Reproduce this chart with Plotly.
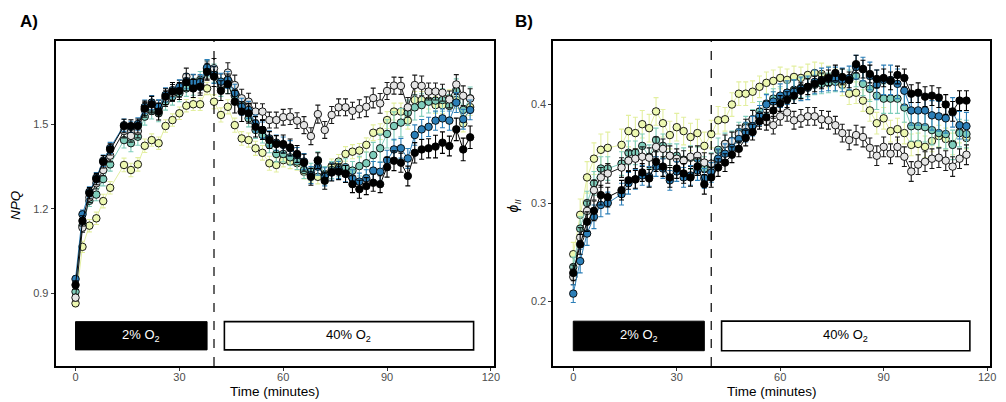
import plotly.graph_objects as go

# ---------------- data ----------------
time_min = [0, 2, 4, 6, 8, 10, 14, 16, 18, 20, 22, 24, 26, 28, 30, 32, 34, 36, 38, 40, 42,
            44, 46, 48, 50, 52, 54, 56, 58, 60, 62, 64, 66, 68, 70, 72, 74, 76, 78, 80, 82,
            84, 86, 88, 90, 92, 94, 96, 98, 100, 102, 104, 106, 108, 110, 112, 114]

npq_yellow = [0.865, 1.065, 1.140, 1.166, 1.227, 1.274, 1.355, 1.337, 1.357, 1.423, 1.443, 1.432, 1.493, 1.514, 1.538, 1.565, 1.570, 1.570, 1.626, 1.579, 1.532,
              1.561, 1.496, 1.449, 1.443, 1.414, 1.398, 1.361, 1.355, 1.372, 1.367,
              1.361, 1.331, 1.319, 1.313, 1.323, 1.351, 1.367, 1.394, 1.402, 1.406,
              1.426, 1.469, 1.473, 1.514, 1.544, 1.544, 1.512, 1.585, 1.585, 1.583,
              1.567, 1.567, 1.591, 1.585, 1.502, 1.560]
npq_teal = [0.906, 1.140, 1.228, 1.250, 1.305, 1.357, 1.443, 1.432, 1.455, 1.526, 1.546, 1.538, 1.579, 1.597, 1.609, 1.626, 1.632, 1.656, 1.697, 1.680, 1.630,
            1.640, 1.600, 1.567, 1.520, 1.479, 1.461, 1.426, 1.394, 1.394, 1.382,
            1.367, 1.337, 1.331, 1.372, 1.319, 1.337, 1.343, 1.347, 1.335, 1.351,
            1.361, 1.390, 1.414, 1.465, 1.493, 1.505, 1.540, 1.559, 1.567, 1.579,
            1.583, 1.585, 1.564, 1.620, 1.550, 1.591]
npq_gray = [0.885, 1.133, 1.240, 1.290, 1.337, 1.388, 1.475, 1.458, 1.475, 1.550, 1.561, 1.556, 1.590, 1.610, 1.625, 1.668, 1.645, 1.640, 1.691, 1.697, 1.642,
            1.682, 1.638, 1.591, 1.579, 1.544, 1.544, 1.514, 1.514, 1.524, 1.526,
            1.512, 1.496, 1.457, 1.535, 1.479, 1.532, 1.559, 1.559, 1.547, 1.554,
            1.561, 1.592, 1.573, 1.617, 1.636, 1.635, 1.559, 1.638, 1.635, 1.615,
            1.615, 1.611, 1.587, 1.640, 1.600, 1.590]
npq_blue = [0.951, 1.180, 1.260, 1.310, 1.370, 1.415, 1.496, 1.490, 1.500, 1.561, 1.576, 1.561, 1.603, 1.620, 1.632, 1.652, 1.648, 1.648, 1.700, 1.674, 1.650,
            1.656, 1.609, 1.561, 1.550, 1.502, 1.479, 1.449, 1.434, 1.426, 1.414,
            1.390, 1.367, 1.319, 1.349, 1.313, 1.331, 1.337, 1.325, 1.308, 1.296,
            1.308, 1.335, 1.331, 1.372, 1.410, 1.414, 1.378, 1.461, 1.481, 1.490,
            1.512, 1.520, 1.512, 1.576, 1.517, 1.550]
npq_black = [0.930, 1.157, 1.255, 1.305, 1.366, 1.410, 1.493, 1.493, 1.493, 1.555, 1.570, 1.544, 1.597, 1.615, 1.617, 1.648, 1.626, 1.632, 1.685, 1.668, 1.618,
             1.642, 1.579, 1.544, 1.538, 1.490, 1.479, 1.443, 1.429, 1.429, 1.417,
             1.394, 1.363, 1.313, 1.370, 1.299, 1.328, 1.331, 1.323, 1.287, 1.269,
             1.280, 1.292, 1.287, 1.347, 1.370, 1.363, 1.316, 1.398, 1.410, 1.414,
             1.420, 1.434, 1.422, 1.481, 1.410, 1.453]

npq_err_yellow = [0.012, 0.020, 0.022, 0.022, 0.024, 0.022, 0.024, 0.024, 0.024, 0.024, 0.022, 0.022, 0.022, 0.022, 0.022, 0.022, 0.022, 0.022, 0.022, 0.025, 0.025,
                  0.025, 0.025, 0.024, 0.025, 0.025, 0.026, 0.025, 0.025, 0.024, 0.025,
                  0.025, 0.026, 0.025, 0.025, 0.024, 0.025, 0.025, 0.026, 0.025, 0.025,
                  0.025, 0.028, 0.028, 0.030, 0.030, 0.030, 0.030, 0.030, 0.030, 0.030,
                  0.030, 0.030, 0.030, 0.030, 0.030, 0.030]
npq_err_teal = [0.012, 0.018, 0.020, 0.022, 0.024, 0.024, 0.028, 0.030, 0.030, 0.030, 0.028, 0.030, 0.030, 0.030, 0.030, 0.028, 0.030, 0.030, 0.030, 0.032, 0.032,
                0.032, 0.032, 0.030, 0.030, 0.030, 0.028, 0.028, 0.028, 0.028, 0.028,
                0.028, 0.030, 0.030, 0.030, 0.030, 0.030, 0.030, 0.030, 0.032, 0.035,
                0.040, 0.045, 0.050, 0.050, 0.050, 0.050, 0.045, 0.045, 0.040, 0.040,
                0.040, 0.040, 0.040, 0.040, 0.045, 0.040]
npq_err_gray = [0.012, 0.016, 0.018, 0.020, 0.020, 0.022, 0.024, 0.022, 0.024, 0.026, 0.026, 0.028, 0.028, 0.030, 0.030, 0.030, 0.030, 0.030, 0.032, 0.035, 0.035,
                0.035, 0.035, 0.032, 0.030, 0.030, 0.028, 0.028, 0.028, 0.028, 0.028,
                0.028, 0.030, 0.030, 0.032, 0.030, 0.030, 0.030, 0.030, 0.030, 0.032,
                0.035, 0.035, 0.035, 0.030, 0.030, 0.030, 0.035, 0.035, 0.035, 0.030,
                0.030, 0.030, 0.030, 0.035, 0.035, 0.035]
npq_err_blue = [0.012, 0.015, 0.018, 0.018, 0.020, 0.020, 0.022, 0.020, 0.022, 0.024, 0.025, 0.025, 0.025, 0.027, 0.025, 0.027, 0.028, 0.027, 0.028, 0.030, 0.030,
                0.030, 0.032, 0.030, 0.030, 0.030, 0.028, 0.027, 0.027, 0.028, 0.027,
                0.027, 0.028, 0.030, 0.030, 0.032, 0.030, 0.030, 0.030, 0.030, 0.030,
                0.030, 0.032, 0.034, 0.035, 0.036, 0.035, 0.035, 0.036, 0.035, 0.034,
                0.034, 0.033, 0.034, 0.035, 0.035, 0.035]
npq_err_black = [0.015, 0.018, 0.020, 0.020, 0.022, 0.020, 0.024, 0.022, 0.025, 0.026, 0.028, 0.030, 0.028, 0.032, 0.030, 0.030, 0.032, 0.030, 0.030, 0.035, 0.035,
                 0.035, 0.040, 0.035, 0.035, 0.036, 0.034, 0.030, 0.030, 0.032, 0.030,
                 0.030, 0.030, 0.030, 0.028, 0.030, 0.030, 0.028, 0.030, 0.030, 0.032,
                 0.030, 0.030, 0.030, 0.035, 0.035, 0.034, 0.035, 0.036, 0.035, 0.034,
                 0.040, 0.038, 0.035, 0.040, 0.040, 0.040]

phi_yellow = [0.248, 0.288, 0.326, 0.345, 0.354, 0.356, 0.359, 0.373, 0.371, 0.380, 0.376, 0.393, 0.381, 0.369, 0.377, 0.373, 0.367, 0.371, 0.358, 0.370, 0.384,
              0.385, 0.400, 0.411, 0.411, 0.413, 0.418, 0.422, 0.424, 0.427, 0.425,
              0.428, 0.427, 0.430, 0.432, 0.431, 0.428, 0.425, 0.420, 0.411, 0.412,
              0.404, 0.394, 0.381, 0.386, 0.373, 0.375, 0.371, 0.359, 0.360, 0.357,
              0.363, 0.368, 0.365, 0.360, 0.372, 0.366]
phi_teal = [0.235, 0.274, 0.300, 0.320, 0.335, 0.335, 0.340, 0.351, 0.351, 0.358, 0.347, 0.364, 0.358, 0.348, 0.348, 0.344, 0.346, 0.345, 0.335, 0.339, 0.354,
            0.360, 0.363, 0.372, 0.378, 0.385, 0.393, 0.401, 0.406, 0.408, 0.412,
            0.415, 0.417, 0.418, 0.420, 0.421, 0.422, 0.423, 0.426, 0.425, 0.429,
            0.421, 0.416, 0.409, 0.406, 0.406, 0.406, 0.397, 0.378, 0.378, 0.377,
            0.374, 0.371, 0.370, 0.359, 0.371, 0.370]
phi_gray = [0.225, 0.265, 0.292, 0.313, 0.326, 0.330, 0.336, 0.343, 0.345, 0.347, 0.346, 0.357, 0.355, 0.348, 0.345, 0.343, 0.347, 0.348, 0.341, 0.340, 0.344,
            0.360, 0.363, 0.370, 0.376, 0.385, 0.387, 0.383, 0.379, 0.388, 0.392,
            0.384, 0.386, 0.388, 0.388, 0.385, 0.384, 0.379, 0.371, 0.364, 0.369,
            0.367, 0.356, 0.348, 0.357, 0.350, 0.357, 0.347, 0.332, 0.339, 0.342,
            0.345, 0.346, 0.343, 0.337, 0.345, 0.349]
phi_blue = [0.208, 0.241, 0.269, 0.286, 0.298, 0.300, 0.309, 0.320, 0.324, 0.328, 0.327, 0.337, 0.335, 0.323, 0.332, 0.326, 0.328, 0.333, 0.325, 0.331, 0.345,
            0.350, 0.356, 0.365, 0.372, 0.378, 0.389, 0.400, 0.403, 0.409, 0.412,
            0.413, 0.416, 0.417, 0.423, 0.425, 0.426, 0.426, 0.425, 0.427, 0.438,
            0.436, 0.429, 0.420, 0.425, 0.425, 0.421, 0.414, 0.394, 0.394, 0.394,
            0.389, 0.388, 0.386, 0.392, 0.379, 0.378]
phi_black = [0.229, 0.258, 0.281, 0.292, 0.308, 0.306, 0.313, 0.323, 0.324, 0.331, 0.325, 0.342, 0.337, 0.326, 0.335, 0.330, 0.326, 0.337, 0.319, 0.326, 0.336,
             0.341, 0.349, 0.355, 0.366, 0.372, 0.383, 0.387, 0.394, 0.401, 0.405,
             0.409, 0.414, 0.418, 0.421, 0.424, 0.427, 0.432, 0.428, 0.425, 0.441,
             0.436, 0.431, 0.426, 0.427, 0.424, 0.430, 0.427, 0.411, 0.412, 0.408,
             0.409, 0.407, 0.400, 0.393, 0.404, 0.404]

phi_err_yellow = [0.012, 0.016, 0.016, 0.016, 0.016, 0.016, 0.016, 0.016, 0.016, 0.014, 0.014, 0.014, 0.014, 0.014, 0.014, 0.014, 0.014, 0.014, 0.014, 0.014, 0.014,
                  0.012, 0.012, 0.012, 0.012, 0.011, 0.011, 0.011, 0.011, 0.011, 0.011,
                  0.011, 0.011, 0.011, 0.011, 0.011, 0.011, 0.011, 0.011, 0.011, 0.011,
                  0.011, 0.011, 0.011, 0.011, 0.011, 0.011, 0.011, 0.011, 0.011, 0.011,
                  0.011, 0.011, 0.011, 0.011, 0.011, 0.011]
phi_err_teal = [0.010, 0.012, 0.012, 0.012, 0.012, 0.012, 0.012, 0.012, 0.012, 0.012, 0.012, 0.012, 0.012, 0.012, 0.012, 0.012, 0.012, 0.012, 0.012, 0.012, 0.012,
                0.011, 0.010, 0.010, 0.010, 0.010, 0.010, 0.010, 0.010, 0.010, 0.010,
                0.010, 0.010, 0.010, 0.010, 0.010, 0.010, 0.010, 0.010, 0.010, 0.011,
                0.012, 0.013, 0.014, 0.015, 0.015, 0.015, 0.015, 0.015, 0.015, 0.015,
                0.015, 0.015, 0.015, 0.015, 0.014, 0.014]
phi_err_gray = [0.008, 0.010, 0.010, 0.010, 0.010, 0.010, 0.010, 0.010, 0.010, 0.010, 0.010, 0.010, 0.010, 0.010, 0.010, 0.010, 0.010, 0.010, 0.010, 0.010, 0.010,
                0.009, 0.009, 0.009, 0.009, 0.009, 0.009, 0.009, 0.009, 0.009, 0.009,
                0.009, 0.009, 0.009, 0.009, 0.009, 0.009, 0.009, 0.009, 0.010, 0.010,
                0.010, 0.010, 0.010, 0.010, 0.010, 0.010, 0.010, 0.010, 0.010, 0.010,
                0.010, 0.010, 0.010, 0.010, 0.010, 0.010]
phi_err_blue = [0.009, 0.012, 0.012, 0.012, 0.012, 0.011, 0.011, 0.011, 0.010, 0.010, 0.010, 0.010, 0.010, 0.010, 0.010, 0.010, 0.010, 0.010, 0.010, 0.010, 0.010,
                0.010, 0.010, 0.010, 0.010, 0.010, 0.010, 0.010, 0.010, 0.012, 0.012,
                0.012, 0.012, 0.012, 0.012, 0.012, 0.012, 0.012, 0.012, 0.012, 0.012,
                0.012, 0.014, 0.015, 0.015, 0.015, 0.015, 0.015, 0.015, 0.015, 0.015,
                0.015, 0.015, 0.015, 0.015, 0.014, 0.014]
phi_err_black = [0.008, 0.010, 0.010, 0.010, 0.010, 0.010, 0.010, 0.009, 0.009, 0.009, 0.009, 0.010, 0.010, 0.010, 0.010, 0.010, 0.009, 0.009, 0.010, 0.010, 0.009,
                 0.009, 0.008, 0.008, 0.008, 0.008, 0.008, 0.008, 0.008, 0.008, 0.008,
                 0.008, 0.008, 0.008, 0.008, 0.008, 0.008, 0.008, 0.008, 0.008, 0.009,
                 0.009, 0.009, 0.009, 0.009, 0.009, 0.009, 0.009, 0.009, 0.010, 0.010,
                 0.010, 0.010, 0.010, 0.010, 0.010, 0.010]

series_names = ["yellow", "teal", "gray", "blue", "black"]
fill_colors = ["#edf8b1", "#7fcdbb", "#e5e5e5", "#2c7fb8", "#000000"]
line_colors = ["#e3efa0", "#7fcdbb", "#1a1a1a", "#2c7fb8", "#000000"]

npq_vals = [npq_yellow, npq_teal, npq_gray, npq_blue, npq_black]
npq_errs = [npq_err_yellow, npq_err_teal, npq_err_gray, npq_err_blue, npq_err_black]
phi_vals = [phi_yellow, phi_teal, phi_gray, phi_blue, phi_black]
phi_errs = [phi_err_yellow, phi_err_teal, phi_err_gray, phi_err_blue, phi_err_black]

x_ticks = [0, 30, 60, 90, 120]
npq_ticks = [0.9, 1.2, 1.5]
phi_ticks = [0.2, 0.3, 0.4]

switch_time = 40
low_o2 = (0, 38)
high_o2 = (43, 115)
npq_box = (0.70, 0.80)
phi_box = (0.15, 0.18)

# ---------------- figure ----------------
FONT = "Liberation Sans, Arial, Helvetica, sans-serif"
fig = go.Figure()

for vals_list, errs_list, xa, ya in [(npq_vals, npq_errs, "x", "y"), (phi_vals, phi_errs, "x2", "y2")]:
    for name, fc, lc, vals, errs in zip(series_names, fill_colors, line_colors, vals_list, errs_list):
        fig.add_trace(go.Scatter(
            x=time_min, y=vals, xaxis=xa, yaxis=ya, name=name, showlegend=False,
            mode="lines+markers",
            line=dict(color=lc, width=1),
            marker=dict(size=7.5, color=fc, line=dict(color="black", width=0.9)),
            error_y=dict(type="data", array=errs, visible=True, color=lc, thickness=1.1, width=2.5),
        ))

A_dom = [0.0557, 0.494]
B_dom = [0.554, 0.9907]
Y_dom = [0.0896, 0.898]

axis_common = dict(showline=True, mirror=True, linecolor="black", linewidth=2, showgrid=False,
                   zeroline=False, ticks="outside", ticklen=3, tickwidth=1, tickcolor="#333333",
                   tickfont=dict(family=FONT, size=11, color="#4d4d4d"))

fig.update_layout(
    width=1006, height=402, margin=dict(l=0, r=0, t=0, b=0),
    paper_bgcolor="white", plot_bgcolor="white", showlegend=False,
    font=dict(family=FONT),
    xaxis=dict(domain=A_dom, range=[-5.75, 120.75], tickvals=x_ticks, anchor="y",
               ticklabelstandoff=-3, **axis_common),
    yaxis=dict(domain=Y_dom, range=[0.643, 1.794], tickvals=npq_ticks, tickformat=".1f", anchor="x", **axis_common),
    xaxis2=dict(domain=B_dom, range=[-5.75, 120.75], tickvals=x_ticks, anchor="y2",
                ticklabelstandoff=-3, **axis_common),
    yaxis2=dict(domain=Y_dom, range=[0.1345, 0.4645], tickvals=phi_ticks, tickformat=".1f", anchor="x2", **axis_common),
)

shapes = []
annotations = []
for xa, ya, box in [("x", "y", npq_box), ("x2", "y2", phi_box)]:
    shapes.append(dict(type="line", xref=xa, yref=f"{ya} domain", x0=switch_time, x1=switch_time, y0=0, y1=1,
                       line=dict(color="black", width=1.2, dash="dash")))
    shapes.append(dict(type="rect", xref=xa, yref=ya, x0=low_o2[0], x1=low_o2[1], y0=box[0], y1=box[1],
                       fillcolor="black", line=dict(color="black", width=1)))
    shapes.append(dict(type="rect", xref=xa, yref=ya, x0=high_o2[0], x1=high_o2[1], y0=box[0], y1=box[1],
                       fillcolor="white", line=dict(color="black", width=1.6)))
    annotations.append(dict(xref=xa, yref=ya, x=(low_o2[0] + low_o2[1]) / 2, y=(box[0] + box[1]) / 2,
                            text="2% O<sub>2</sub>", showarrow=False,
                            font=dict(family=FONT, size=13, color="white")))
    annotations.append(dict(xref=xa, yref=ya, x=(high_o2[0] + high_o2[1]) / 2, y=(box[0] + box[1]) / 2,
                            text="40% O<sub>2</sub>", showarrow=False,
                            font=dict(family=FONT, size=13, color="black")))

for dom in [A_dom, B_dom]:
    annotations.append(dict(xref="paper", yref="paper", x=(dom[0] + dom[1]) / 2, y=1 - 391 / 402,
                            text="Time (minutes)", showarrow=False, xanchor="center", yanchor="middle",
                            font=dict(family=FONT, size=13.5, color="black")))

annotations.append(dict(xref="paper", yref="paper", x=16 / 1006, y=1 - 205 / 402, text="<i>NPQ</i>",
                        textangle=-90, showarrow=False, xanchor="center", yanchor="middle",
                        font=dict(family=FONT, size=13.5, color="black")))
annotations.append(dict(xref="paper", yref="paper", x=518 / 1006, y=1 - 205 / 402, text="<i>ϕ<sub>II</sub></i>",
                        textangle=-90, showarrow=False, xanchor="center", yanchor="middle",
                        font=dict(family=FONT, size=14, color="black")))

annotations.append(dict(xref="paper", yref="paper", x=18 / 1006, y=1 - 22 / 402, text="<b>A)</b>",
                        showarrow=False, xanchor="left", yanchor="middle",
                        font=dict(family=FONT, size=17, color="black")))
annotations.append(dict(xref="paper", yref="paper", x=517 / 1006, y=1 - 22 / 402, text="<b>B)</b>",
                        showarrow=False, xanchor="left", yanchor="middle",
                        font=dict(family=FONT, size=17, color="black")))

fig.update_layout(shapes=shapes, annotations=annotations)
fig.write_html("out.html")
